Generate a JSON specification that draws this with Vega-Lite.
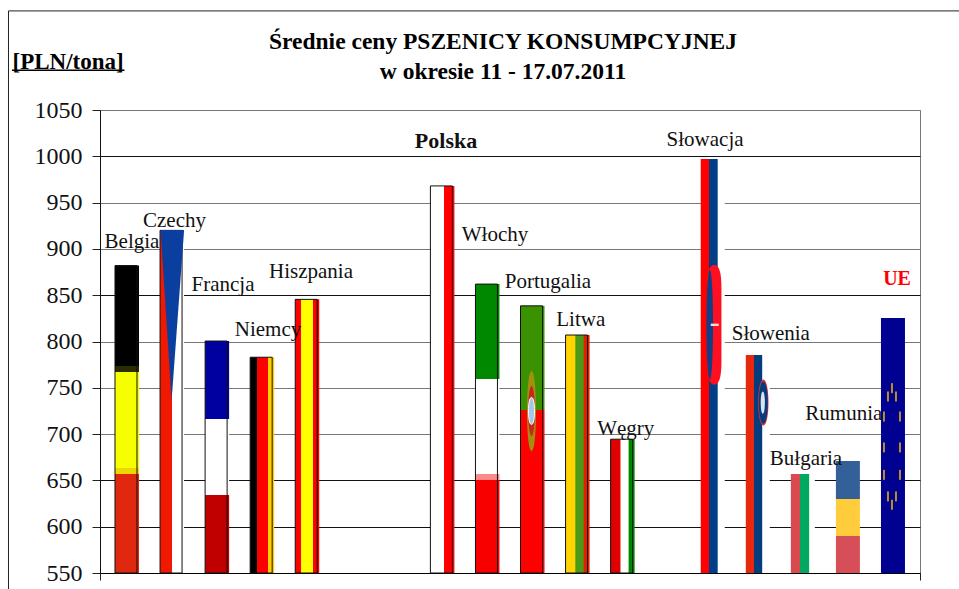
{
"$schema":"https://vega.github.io/schema/vega-lite/v6.json",
"width":820,"height":463,
"autosize":{"type":"none"},
"padding":{"left":100,"top":110,"right":39,"bottom":16},
"background":"white",
"config":{"view":{"stroke":"#777777","strokeWidth":1},"font":"Liberation Serif"},
"title":{"text":["Średnie ceny PSZENICY KONSUMPCYJNEJ","w okresie 11 - 17.07.2011"],"font":"Liberation Serif","fontSize":23.5,"fontWeight":"bold","color":"#000000","anchor":"middle","dx":-7,"offset":-73,"lineHeight":30},
"datasets":{
"bars":[
{"country":"Belgia","slot":1,"price":882},
{"country":"Czechy","slot":2,"price":920},
{"country":"Francja","slot":3,"price":800.5},
{"country":"Niemcy","slot":4,"price":783},
{"country":"Hiszpania","slot":5,"price":845.5},
{"country":"Polska","slot":8,"price":968},
{"country":"Włochy","slot":9,"price":862},
{"country":"Portugalia","slot":10,"price":838.5},
{"country":"Litwa","slot":11,"price":807},
{"country":"Węgry","slot":12,"price":694.5},
{"country":"Słowacja","slot":14,"price":997},
{"country":"Słowenia","slot":15,"price":785.5},
{"country":"Bułgaria","slot":16,"price":657},
{"country":"Rumunia","slot":17,"price":671},
{"country":"UE","slot":18,"price":825.5}],
"labels":[
{"country":"Belgia","slot":1.11,"level":901,"group":"plain"},
{"country":"Czechy","slot":2.054,"level":924,"group":"plain"},
{"country":"Francja","slot":3.13,"level":854,"group":"plain"},
{"country":"Niemcy","slot":4.13,"level":805.5,"group":"plain"},
{"country":"Hiszpania","slot":5.083,"level":868.7,"group":"plain"},
{"country":"Polska","slot":8.08,"level":1009,"group":"bold"},
{"country":"Włochy","slot":9.167,"level":909,"group":"plain"},
{"country":"Portugalia","slot":10.343,"level":858,"group":"plain"},
{"country":"Litwa","slot":11.07,"level":817,"group":"plain"},
{"country":"Węgry","slot":12.07,"level":699,"group":"plain"},
{"country":"Słowacja","slot":13.83,"level":1011,"group":"plain"},
{"country":"Słowenia","slot":15.29,"level":802,"group":"plain"},
{"country":"Bułgaria","slot":16.07,"level":667,"group":"plain"},
{"country":"Rumunia","slot":16.91,"level":715,"group":"plain"},
{"country":"UE","slot":18.09,"level":861,"group":"ue"}],
"emblems":[
{"part":"czTriangle","slot":2,"level":828.5},
{"part":"ptGold","slot":10,"level":725},
{"part":"ptRed","slot":10,"level":725},
{"part":"ptWhite","slot":10,"level":725},
{"part":"skRed","slot":14,"level":818},
{"part":"skBlue","slot":14,"level":818},
{"part":"skWhite","slot":14,"level":818},
{"part":"siRed","slot":15,"level":734},
{"part":"siBlue","slot":15,"level":734},
{"part":"siWhite","slot":15,"level":734}],
"stars":[
{"col":"c","level":749.6},{"col":"b","level":740.6},{"col":"d","level":740.6},
{"col":"a","level":719},{"col":"e","level":719},
{"col":"a","level":685.6},{"col":"e","level":685.6},
{"col":"a","level":656},{"col":"e","level":656},
{"col":"b","level":632.7},{"col":"d","level":632.7},{"col":"c","level":623.7}],
"frame":[{"left":-1.63,"right":19.6,"top":1157,"bottom":515}],
"underline":[{"from":-1.552,"to":0.945,"level":1093}]
},
"layer":[
{"data":{"name":"frame"},"mark":{"type":"rect","fill":null,"stroke":"#222222","strokeWidth":1,"clip":false},
 "encoding":{"x":{"field":"left","type":"quantitative","scale":{"domain":[0.4008,18.6],"nice":false,"zero":false,"padding":0},"axis":{"values":[0.4008,18.6],"labels":false,"title":null,"grid":false,"tickSize":7,"tickColor":"#222222","domainColor":"#000000","domainWidth":1}},"x2":{"field":"right"},
 "y":{"field":"top","type":"quantitative","scale":{"domain":[550,1050],"nice":false,"zero":false},
   "axis":{"values":[550,600,650,700,750,800,850,900,950,1000,1050],"format":"d","labelFont":"Liberation Serif","labelFontSize":24,"labelColor":"#111111","labelPadding":10,"tickSize":8,"tickColor":"#222222","domainColor":"#111111","grid":true,"gridWidth":1,
   "gridColor":{"condition":{"test":"datum.value==850||datum.value==650||datum.value==600||datum.value==1000||datum.value==550","value":"#111111"},"value":"#777777"},
   "title":"[PLN/tona]","titleAngle":0,"titleFont":"Liberation Serif","titleFontSize":23,"titleFontWeight":"bold","titleColor":"#000000","titleAlign":"left","titleBaseline":"alphabetic","titleX":-88,"titleY":-42}},
 "y2":{"field":"bottom"}}},
{"data":{"name":"underline"},"mark":{"type":"rule","stroke":"#000000","strokeWidth":1.5,"clip":false},
 "encoding":{"x":{"field":"from","type":"quantitative"},"x2":{"field":"to"},"y":{"field":"level","type":"quantitative"}}},
{"data":{"name":"bars"},"transform":[{"filter":"datum.country=='Belgia'"}],"mark":{"type":"bar","size":24,"orient":"vertical","fill":{"gradient":"linear","x1":0,"y1":0,"x2":0,"y2":1,"stops":[{"offset":0,"color":"#000000"},{"offset":0.326,"color":"#000000"},{"offset":0.326,"color":"#2c2c00"},{"offset":0.345,"color":"#2c2c00"},{"offset":0.345,"color":"#f6ff00"},{"offset":0.658,"color":"#f6ff00"},{"offset":0.658,"color":"#ecd800"},{"offset":0.678,"color":"#ecd800"},{"offset":0.678,"color":"#e02810"},{"offset":1,"color":"#e02810"}]}},"encoding":{"x":{"field":"slot","type":"quantitative"},"y":{"field":"price","type":"quantitative"},"y2":{"datum":550}}},
{"data":{"name":"bars"},"transform":[{"filter":"datum.country=='Czechy'"}],"mark":{"type":"bar","size":24,"orient":"vertical","fill":{"gradient":"linear","x1":0,"y1":0,"x2":1,"y2":0,"stops":[{"offset":0,"color":"#f01800"},{"offset":0.5,"color":"#f01800"},{"offset":0.5,"color":"#ffffff"},{"offset":1,"color":"#ffffff"}]}},"encoding":{"x":{"field":"slot","type":"quantitative"},"y":{"field":"price","type":"quantitative"},"y2":{"datum":550}}},
{"data":{"name":"bars"},"transform":[{"filter":"datum.country=='Francja'"}],"mark":{"type":"bar","size":24,"orient":"vertical","fill":{"gradient":"linear","x1":0,"y1":0,"x2":0,"y2":1,"stops":[{"offset":0,"color":"#0000a0"},{"offset":0.337,"color":"#0000a0"},{"offset":0.337,"color":"#ffffff"},{"offset":0.664,"color":"#ffffff"},{"offset":0.664,"color":"#c00000"},{"offset":1,"color":"#c00000"}]}},"encoding":{"x":{"field":"slot","type":"quantitative"},"y":{"field":"price","type":"quantitative"},"y2":{"datum":550}}},
{"data":{"name":"bars"},"transform":[{"filter":"datum.country=='Niemcy'"}],"mark":{"type":"bar","size":24,"orient":"vertical","fill":{"gradient":"linear","x1":0,"y1":0,"x2":1,"y2":0,"stops":[{"offset":0,"color":"#000000"},{"offset":0.3,"color":"#000000"},{"offset":0.3,"color":"#ff0000"},{"offset":0.73,"color":"#ff0000"},{"offset":0.73,"color":"#ffcf00"},{"offset":1,"color":"#ffcf00"}]}},"encoding":{"x":{"field":"slot","type":"quantitative"},"y":{"field":"price","type":"quantitative"},"y2":{"datum":550}}},
{"data":{"name":"bars"},"transform":[{"filter":"datum.country=='Hiszpania'"}],"mark":{"type":"bar","size":24,"orient":"vertical","fill":{"gradient":"linear","x1":0,"y1":0,"x2":1,"y2":0,"stops":[{"offset":0,"color":"#ff0000"},{"offset":0.23,"color":"#ff0000"},{"offset":0.23,"color":"#ffff00"},{"offset":0.73,"color":"#ffff00"},{"offset":0.73,"color":"#ff0000"},{"offset":1,"color":"#ff0000"}]}},"encoding":{"x":{"field":"slot","type":"quantitative"},"y":{"field":"price","type":"quantitative"},"y2":{"datum":550}}},
{"data":{"name":"bars"},"transform":[{"filter":"datum.country=='Polska'"}],"mark":{"type":"bar","size":24,"orient":"vertical","fill":{"gradient":"linear","x1":0,"y1":0,"x2":1,"y2":0,"stops":[{"offset":0,"color":"#ffffff"},{"offset":0.57,"color":"#ffffff"},{"offset":0.57,"color":"#ff0000"},{"offset":1,"color":"#ff0000"}]}},"encoding":{"x":{"field":"slot","type":"quantitative"},"y":{"field":"price","type":"quantitative"},"y2":{"datum":550}}},
{"data":{"name":"bars"},"transform":[{"filter":"datum.country=='Włochy'"}],"mark":{"type":"bar","size":24,"orient":"vertical","fill":{"gradient":"linear","x1":0,"y1":0,"x2":0,"y2":1,"stops":[{"offset":0,"color":"#008800"},{"offset":0.328,"color":"#008800"},{"offset":0.328,"color":"#ffffff"},{"offset":0.657,"color":"#ffffff"},{"offset":0.657,"color":"#ff8888"},{"offset":0.678,"color":"#ff8888"},{"offset":0.678,"color":"#f80000"},{"offset":1,"color":"#f80000"}]}},"encoding":{"x":{"field":"slot","type":"quantitative"},"y":{"field":"price","type":"quantitative"},"y2":{"datum":550}}},
{"data":{"name":"bars"},"transform":[{"filter":"datum.country=='Portugalia'"}],"mark":{"type":"bar","size":24,"orient":"vertical","fill":{"gradient":"linear","x1":0,"y1":0,"x2":0,"y2":1,"stops":[{"offset":0,"color":"#3a9200"},{"offset":0.389,"color":"#3a9200"},{"offset":0.389,"color":"#ff0000"},{"offset":1,"color":"#ff0000"}]}},"encoding":{"x":{"field":"slot","type":"quantitative"},"y":{"field":"price","type":"quantitative"},"y2":{"datum":550}}},
{"data":{"name":"bars"},"transform":[{"filter":"datum.country=='Litwa'"}],"mark":{"type":"bar","size":24,"orient":"vertical","fill":{"gradient":"linear","x1":0,"y1":0,"x2":1,"y2":0,"stops":[{"offset":0,"color":"#ffd400"},{"offset":0.4,"color":"#ffd400"},{"offset":0.42,"color":"#4a9a18"},{"offset":0.74,"color":"#4a9a18"},{"offset":0.76,"color":"#e02000"},{"offset":1,"color":"#e02000"}]}},"encoding":{"x":{"field":"slot","type":"quantitative"},"y":{"field":"price","type":"quantitative"},"y2":{"datum":550}}},
{"data":{"name":"bars"},"transform":[{"filter":"datum.country=='Węgry'"}],"mark":{"type":"bar","size":24,"orient":"vertical","fill":{"gradient":"linear","x1":0,"y1":0,"x2":1,"y2":0,"stops":[{"offset":0,"color":"#e00000"},{"offset":0.38,"color":"#e00000"},{"offset":0.44,"color":"#ffffff"},{"offset":0.72,"color":"#ffffff"},{"offset":0.78,"color":"#008800"},{"offset":1,"color":"#008800"}]}},"encoding":{"x":{"field":"slot","type":"quantitative"},"y":{"field":"price","type":"quantitative"},"y2":{"datum":550}}},
{"data":{"name":"bars"},"transform":[{"filter":"datum.country=='Słowacja'"}],"mark":{"type":"bar","size":24,"orient":"vertical","fill":{"gradient":"linear","x1":0,"y1":0,"x2":1,"y2":0,"stops":[{"offset":0,"color":"#ff0000"},{"offset":0.33,"color":"#ff0000"},{"offset":0.33,"color":"#003f87"},{"offset":0.68,"color":"#003f87"},{"offset":0.74,"color":"#ffffff"},{"offset":1,"color":"#ffffff"}]}},"encoding":{"x":{"field":"slot","type":"quantitative"},"y":{"field":"price","type":"quantitative"},"y2":{"datum":550}}},
{"data":{"name":"bars"},"transform":[{"filter":"datum.country=='Słowenia'"}],"mark":{"type":"bar","size":24,"orient":"vertical","fill":{"gradient":"linear","x1":0,"y1":0,"x2":1,"y2":0,"stops":[{"offset":0,"color":"#e8280e"},{"offset":0.33,"color":"#e8280e"},{"offset":0.33,"color":"#043c80"},{"offset":0.68,"color":"#043c80"},{"offset":0.7,"color":"#ffffff"},{"offset":1,"color":"#ffffff"}]}},"encoding":{"x":{"field":"slot","type":"quantitative"},"y":{"field":"price","type":"quantitative"},"y2":{"datum":550}}},
{"data":{"name":"bars"},"transform":[{"filter":"datum.country=='Bułgaria'"}],"mark":{"type":"bar","size":24,"orient":"vertical","fill":{"gradient":"linear","x1":0,"y1":0,"x2":1,"y2":0,"stops":[{"offset":0,"color":"#d84a50"},{"offset":0.375,"color":"#d84a50"},{"offset":0.375,"color":"#00a860"},{"offset":0.76,"color":"#00a860"},{"offset":0.78,"color":"#ffffff"},{"offset":1,"color":"#ffffff"}]}},"encoding":{"x":{"field":"slot","type":"quantitative"},"y":{"field":"price","type":"quantitative"},"y2":{"datum":550}}},
{"data":{"name":"bars"},"transform":[{"filter":"datum.country=='Rumunia'"}],"mark":{"type":"bar","size":24,"orient":"vertical","fill":{"gradient":"linear","x1":0,"y1":0,"x2":0,"y2":1,"stops":[{"offset":0,"color":"#336099"},{"offset":0.342,"color":"#336099"},{"offset":0.342,"color":"#ffcd3c"},{"offset":0.668,"color":"#ffcd3c"},{"offset":0.668,"color":"#d54e58"},{"offset":1,"color":"#d54e58"}]}},"encoding":{"x":{"field":"slot","type":"quantitative"},"y":{"field":"price","type":"quantitative"},"y2":{"datum":550}}},
{"data":{"name":"bars"},"transform":[{"filter":"datum.country=='UE'"}],"mark":{"type":"bar","size":24,"orient":"vertical","fill":"#000091"},"encoding":{"x":{"field":"slot","type":"quantitative"},"y":{"field":"price","type":"quantitative"},"y2":{"datum":550}}},
{"data":{"name":"bars"},"transform":[{"filter":{"field":"country","oneOf":["Belgia","Czechy","Francja","Niemcy","Hiszpania","Polska","Włochy","Portugalia","Litwa","Węgry"]}}],
 "mark":{"type":"bar","size":22,"orient":"vertical","xOffset":-1,"fill":null,"stroke":"#111111","strokeWidth":1},
 "encoding":{"x":{"field":"slot","type":"quantitative"},"y":{"field":"price","type":"quantitative"},"y2":{"datum":550}}},
{"data":{"name":"emblems"},"transform":[{"filter":"datum.part=='czTriangle'"}],"mark":{"type":"point","filled":true,"opacity":1,"fill":"#0a3fa0","size":28900,"shape":"M-0.135,-1 L0.141,-1 L0.141,-0.99 L-0.005,1 Z"},
 "encoding":{"x":{"field":"slot","type":"quantitative"},"y":{"field":"level","type":"quantitative"}}},
{"data":{"name":"emblems"},"transform":[{"filter":"datum.part=='ptGold'"}],"mark":{"type":"point","filled":true,"opacity":1,"fill":"#a09010","size":6400,"xOffset":-1,"shape":"M0,-1 C0.15,-1 0.15,1 0,1 C-0.15,1 -0.15,-1 0,-1 Z"},
 "encoding":{"x":{"field":"slot","type":"quantitative"},"y":{"field":"level","type":"quantitative"}}},
{"data":{"name":"emblems"},"transform":[{"filter":"datum.part=='ptRed'"}],"mark":{"type":"point","filled":true,"opacity":1,"fill":"#c8281c","size":2500,"xOffset":-1,"shape":"M0,-1 C0.176,-1 0.176,1 0,1 C-0.176,1 -0.176,-1 0,-1 Z"},
 "encoding":{"x":{"field":"slot","type":"quantitative"},"y":{"field":"level","type":"quantitative"}}},
{"data":{"name":"emblems"},"transform":[{"filter":"datum.part=='ptWhite'"}],"mark":{"type":"point","filled":true,"opacity":1,"fill":"#a8c4e8","size":729,"xOffset":-1,"stroke":"#ffffff","strokeWidth":1,"shape":"M0,-1 C0.3,-1 0.3,1 0,1 C-0.3,1 -0.3,-1 0,-1 Z"},
 "encoding":{"x":{"field":"slot","type":"quantitative"},"y":{"field":"level","type":"quantitative"}}},
{"data":{"name":"emblems"},"transform":[{"filter":"datum.part=='skRed'"}],"mark":{"type":"point","filled":true,"opacity":1,"fill":"#ff1020","size":14400,"xOffset":1.5,"shape":"M0,-1 C0.09,-1 0.12,-0.85 0.12,-0.6 L0.12,0.6 C0.12,0.85 0.09,1 0,1 C-0.09,1 -0.12,0.85 -0.12,0.6 L-0.12,-0.6 C-0.12,-0.85 -0.09,-1 0,-1 Z"},
 "encoding":{"x":{"field":"slot","type":"quantitative"},"y":{"field":"level","type":"quantitative"}}},
{"data":{"name":"emblems"},"transform":[{"filter":"datum.part=='skBlue'"}],"mark":{"type":"point","filled":true,"opacity":1,"fill":"#103f88","size":12000,"xOffset":-3,"shape":"M0,-1 C0.08,-1 0.08,1 0,1 C-0.08,1 -0.08,-1 0,-1 Z"},
 "encoding":{"x":{"field":"slot","type":"quantitative"},"y":{"field":"level","type":"quantitative"}}},
{"data":{"name":"emblems"},"transform":[{"filter":"datum.part=='skWhite'"}],"mark":{"type":"point","filled":true,"opacity":1,"fill":"#ffd8d8","size":400,"xOffset":2,"shape":"M-0.4,-0.12 L0.4,-0.12 L0.4,0.12 L-0.4,0.12 Z"},
 "encoding":{"x":{"field":"slot","type":"quantitative"},"y":{"field":"level","type":"quantitative"}}},
{"data":{"name":"emblems"},"transform":[{"filter":"datum.part=='siRed'"}],"mark":{"type":"point","filled":true,"opacity":1,"fill":"#e03030","size":2116,"xOffset":5.5,"shape":"M0,-1 C0.3,-1 0.3,1 0,1 C-0.3,1 -0.3,-1 0,-1 Z"},
 "encoding":{"x":{"field":"slot","type":"quantitative"},"y":{"field":"level","type":"quantitative"}}},
{"data":{"name":"emblems"},"transform":[{"filter":"datum.part=='siBlue'"}],"mark":{"type":"point","filled":true,"opacity":1,"fill":"#043c80","size":1800,"xOffset":5.5,"shape":"M0,-1 C0.28,-1 0.28,1 0,1 C-0.28,1 -0.28,-1 0,-1 Z"},
 "encoding":{"x":{"field":"slot","type":"quantitative"},"y":{"field":"level","type":"quantitative"}}},
{"data":{"name":"emblems"},"transform":[{"filter":"datum.part=='siWhite'"}],"mark":{"type":"point","filled":true,"opacity":1,"fill":"#d8e4f0","size":500,"xOffset":5,"shape":"M0,-1 C0.25,-1 0.25,1 0,1 C-0.25,1 -0.25,-1 0,-1 Z"},
 "encoding":{"x":{"field":"slot","type":"quantitative"},"y":{"field":"level","type":"quantitative"}}},
{"data":{"name":"stars"},"transform":[{"filter":"datum.col=='a'"}],"mark":{"type":"point","filled":true,"opacity":1,"fill":"#b8902a","size":400,"xOffset":-9,"shape":"M-0.1,-0.5 L0.1,-0.5 L0.1,0.5 L-0.1,0.5 Z"},
 "encoding":{"x":{"datum":18},"y":{"field":"level","type":"quantitative"}}},
{"data":{"name":"stars"},"transform":[{"filter":"datum.col=='b'"}],"mark":{"type":"point","filled":true,"opacity":1,"fill":"#b8902a","size":400,"xOffset":-5,"shape":"M-0.1,-0.5 L0.1,-0.5 L0.1,0.5 L-0.1,0.5 Z"},
 "encoding":{"x":{"datum":18},"y":{"field":"level","type":"quantitative"}}},
{"data":{"name":"stars"},"transform":[{"filter":"datum.col=='c'"}],"mark":{"type":"point","filled":true,"opacity":1,"fill":"#b8902a","size":400,"xOffset":-1,"shape":"M-0.1,-0.5 L0.1,-0.5 L0.1,0.5 L-0.1,0.5 Z"},
 "encoding":{"x":{"datum":18},"y":{"field":"level","type":"quantitative"}}},
{"data":{"name":"stars"},"transform":[{"filter":"datum.col=='d'"}],"mark":{"type":"point","filled":true,"opacity":1,"fill":"#b8902a","size":400,"xOffset":3,"shape":"M-0.1,-0.5 L0.1,-0.5 L0.1,0.5 L-0.1,0.5 Z"},
 "encoding":{"x":{"datum":18},"y":{"field":"level","type":"quantitative"}}},
{"data":{"name":"stars"},"transform":[{"filter":"datum.col=='e'"}],"mark":{"type":"point","filled":true,"opacity":1,"fill":"#b8902a","size":400,"xOffset":7,"shape":"M-0.1,-0.5 L0.1,-0.5 L0.1,0.5 L-0.1,0.5 Z"},
 "encoding":{"x":{"datum":18},"y":{"field":"level","type":"quantitative"}}},
{"data":{"name":"labels"},"transform":[{"filter":"datum.group=='plain'"}],"mark":{"type":"text","font":"Liberation Serif","fontSize":21,"fill":"#111111","baseline":"alphabetic","align":"center"},
 "encoding":{"x":{"field":"slot","type":"quantitative"},"y":{"field":"level","type":"quantitative"},"text":{"field":"country"}}},
{"data":{"name":"labels"},"transform":[{"filter":"datum.group=='bold'"}],"mark":{"type":"text","font":"Liberation Serif","fontSize":22,"fontWeight":"bold","fill":"#111111","baseline":"alphabetic","align":"center"},
 "encoding":{"x":{"field":"slot","type":"quantitative"},"y":{"field":"level","type":"quantitative"},"text":{"field":"country"}}},
{"data":{"name":"labels"},"transform":[{"filter":"datum.group=='ue'"}],"mark":{"type":"text","font":"Liberation Serif","fontSize":20,"fontWeight":"bold","fill":"#ff0000","baseline":"alphabetic","align":"center"},
 "encoding":{"x":{"field":"slot","type":"quantitative"},"y":{"field":"level","type":"quantitative"},"text":{"field":"country"}}}
]
}
